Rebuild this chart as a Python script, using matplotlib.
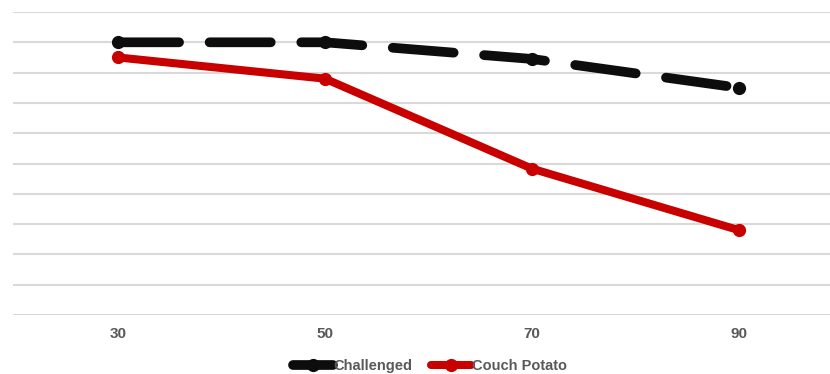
import matplotlib.pyplot as plt

plt.rcParams['font.family'] = ['Liberation Sans', 'DejaVu Sans']
plt.rcParams['lines.scale_dashes'] = False

# ages along the x axis and the two series
ages = ['30', '50', '70', '90']
challenged = [90, 90, 84.5, 75]
couch_potato = [85, 78, 48.3, 28]

fig = plt.figure(figsize=(8.3, 3.74), dpi=100)
ax = fig.add_axes([13 / 830, 1 - 315 / 374, 1 - 13 / 830, (315 - 12) / 374])

x = list(range(len(ages)))
ax.plot(x, challenged, color='#0D0D0D', lw=7, dashes=(44, 22),
        dash_capstyle='round', solid_capstyle='round',
        marker='o', markersize=8.5, label='Challenged', zorder=3)
ax.plot(x, couch_potato, color='#C80000', lw=5.8,
        solid_capstyle='round',
        marker='o', markersize=8.5, label='Couch Potato', zorder=4)

ax.set_xlim(-0.507, 3.44)
ax.set_ylim(0, 100)
ax.set_yticks(range(0, 101, 10))
ax.set_yticklabels([])
ax.set_xticks(x)
ax.set_xticklabels(ages)
ax.tick_params(axis='x', length=0, pad=9, labelsize=11, labelcolor='#595959')
ax.tick_params(axis='y', length=0)
for lbl in ax.get_xticklabels():
    lbl.set_fontweight('bold')
ax.yaxis.grid(True, color='#D9D9D9', lw=1.5)
ax.set_axisbelow(True)
for s in ax.spines.values():
    s.set_visible(False)

leg = fig.legend(loc='center', bbox_to_anchor=(430 / 830, 1 - 366 / 374),
                 ncol=2, frameon=False, fontsize=10.5, handlelength=2.7,
                 handletextpad=0.05, columnspacing=1.3)
for t in leg.get_texts():
    t.set_color('#595959')
    t.set_fontweight('bold')

fig.savefig('out.png', dpi=100)
